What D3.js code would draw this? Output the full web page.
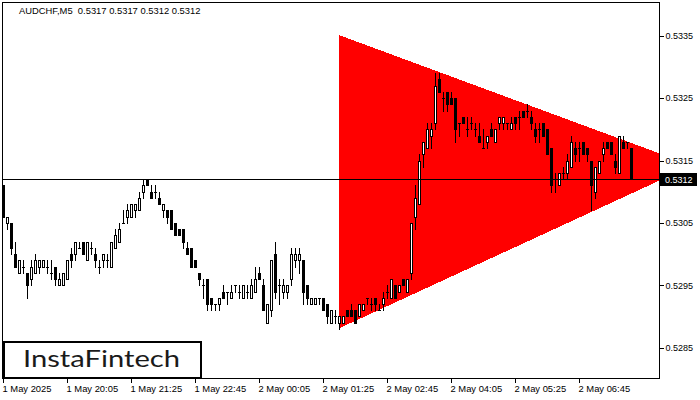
<!DOCTYPE html>
<html><head><meta charset="utf-8">
<script src="https://cdn.jsdelivr.net/npm/d3@7"></script>
<style>body{margin:0;background:#fff}svg{display:block}</style>
</head><body>
<script>
const symbolTitle = "AUDCHF,M5  0.5317 0.5317 0.5312 0.5312";
const openP = [.5311,.5305,.5305,.5300,.5297,.5298,.5297,.5296,.5297,.5298,.5298,.5298,.5297,.5298,.5295,.5295,.5296,.5300,.5300,.5301,
.5302,.5299,.5301,.5300,.5298,.5299,.5299,.5298,.5301,.5302,.5305,.5306,.5306,.5307,.5307,.5310,.5312,.5310,.5310,.5309,
.5307,.5307,.5307,.5305,.5304,.5304,.5301,.5301,.5299,.5297,.5295,.5296,.5293,.5292,.5292,.5294,.5294,.5293,.5295,.5294,
.5293,.5294,.5293,.5294,.5297,.5295,.5289,.5291,.5300,.5295,.5294,.5294,.5296,.5299,.5299,.5299,.5295,.5292,.5292,.5293,
.5293,.5292,.5289,.5290,.5289,.5289,.5291,.5291,.5291,.5290,.5291,.5293,.5292,.5293,.5291,.5292,.5294,.5293,.5295,.5294,
.5296,.5294,.5297,.5306,.5308,.5316,.5317,.5319,.5321,.5328,.5325,.5326,.5325,.5325,.5321,.5322,.5320,.5321,.5320,.5319,
.5317,.5318,.5320,.5318,.5321,.5321,.5321,.5320,.5322,.5322,.5323,.5323,.5322,.5320,.5320,.5321,.5320,.5317,.5312,.5311,
.5313,.5313,.5314,.5317,.5317,.5318,.5317,.5315,.5310,.5313,.5316,.5318,.5318,.5315,.5313,.5318,.5318,.5317];
const highP = [.5311,.5306,.5305,.5302,.5299,.5299,.5297,.5299,.5300,.5299,.5299,.5299,.5299,.5298,.5297,.5297,.5299,.5301,.5302,.5302,
.5302,.5302,.5302,.5301,.5299,.5300,.5300,.5302,.5304,.5305,.5307,.5308,.5308,.5308,.5310,.5312,.5312,.5311,.5311,.5310,
.5308,.5307,.5307,.5305,.5304,.5304,.5302,.5301,.5299,.5297,.5296,.5296,.5293,.5292,.5293,.5295,.5294,.5295,.5295,.5295,
.5295,.5295,.5296,.5298,.5298,.5296,.5292,.5299,.5302,.5296,.5296,.5295,.5301,.5301,.5301,.5299,.5295,.5293,.5293,.5293,
.5293,.5292,.5291,.5291,.5290,.5290,.5291,.5292,.5291,.5292,.5292,.5293,.5293,.5293,.5292,.5294,.5295,.5296,.5295,.5295,
.5296,.5296,.5305,.5311,.5316,.5318,.5321,.5321,.5329,.5329,.5326,.5326,.5326,.5325,.5321,.5322,.5322,.5322,.5321,.5321,
.5320,.5319,.5321,.5320,.5322,.5322,.5321,.5322,.5322,.5323,.5323,.5324,.5323,.5321,.5321,.5321,.5320,.5317,.5313,.5313,
.5314,.5316,.5319,.5318,.5318,.5318,.5317,.5315,.5314,.5315,.5318,.5318,.5318,.5316,.5319,.5319,.5318,.5317];
const lowP = [.5306,.5304,.5300,.5298,.5297,.5297,.5293,.5295,.5297,.5297,.5298,.5297,.5296,.5295,.5295,.5295,.5296,.5298,.5299,.5301,
.5300,.5299,.5300,.5298,.5297,.5298,.5298,.5298,.5301,.5302,.5305,.5305,.5306,.5306,.5307,.5309,.5311,.5309,.5309,.5308,
.5306,.5305,.5304,.5303,.5303,.5301,.5300,.5298,.5298,.5295,.5293,.5291,.5291,.5291,.5291,.5293,.5292,.5293,.5294,.5293,
.5293,.5293,.5293,.5294,.5296,.5291,.5289,.5290,.5293,.5292,.5293,.5293,.5295,.5298,.5297,.5292,.5292,.5292,.5292,.5292,
.5291,.5289,.5289,.5289,.5288,.5289,.5290,.5290,.5289,.5290,.5291,.5292,.5291,.5291,.5291,.5291,.5293,.5293,.5293,.5294,
.5295,.5294,.5296,.5304,.5308,.5314,.5317,.5317,.5320,.5326,.5323,.5323,.5324,.5318,.5319,.5321,.5319,.5320,.5319,.5318,
.5317,.5317,.5319,.5318,.5320,.5320,.5320,.5320,.5320,.5320,.5322,.5322,.5320,.5318,.5318,.5319,.5316,.5310,.5310,.5311,
.5312,.5312,.5314,.5315,.5315,.5316,.5315,.5307,.5309,.5313,.5315,.5317,.5316,.5313,.5313,.5317,.5317,.5312];
const closeP = [.5306,.5306,.5301,.5298,.5299,.5298,.5295,.5298,.5299,.5299,.5299,.5298,.5297,.5296,.5296,.5297,.5299,.5299,.5302,.5301,
.5300,.5302,.5301,.5299,.5298,.5300,.5299,.5302,.5303,.5304,.5305,.5307,.5308,.5308,.5309,.5311,.5311,.5309,.5310,.5308,
.5308,.5306,.5304,.5303,.5303,.5302,.5300,.5298,.5298,.5296,.5295,.5292,.5292,.5292,.5293,.5293,.5294,.5294,.5295,.5294,
.5295,.5294,.5295,.5296,.5296,.5291,.5292,.5299,.5294,.5295,.5295,.5295,.5300,.5300,.5300,.5294,.5293,.5293,.5293,.5293,
.5291,.5290,.5291,.5290,.5290,.5290,.5290,.5290,.5289,.5292,.5292,.5293,.5292,.5292,.5291,.5293,.5294,.5296,.5293,.5295,
.5295,.5296,.5305,.5309,.5315,.5318,.5320,.5320,.5327,.5326,.5325,.5324,.5324,.5320,.5321,.5321,.5320,.5321,.5320,.5318,
.5317,.5319,.5319,.5320,.5322,.5322,.5321,.5321,.5321,.5322,.5322,.5323,.5321,.5319,.5320,.5319,.5316,.5311,.5312,.5313,
.5313,.5315,.5318,.5316,.5317,.5316,.5316,.5311,.5314,.5315,.5317,.5317,.5316,.5314,.5319,.5317,.5318,.5312];
const timeTickBars = [0,16,32,48,64,80,96,112,128,144];
const timeLabels = ["1 May 2025","1 May 20:05","1 May 21:25","1 May 22:45","2 May 00:05","2 May 01:25","2 May 02:45","2 May 04:05","2 May 05:25","2 May 06:45"];
const priceTicks = [0.5335,0.5325,0.5315,0.5305,0.5295,0.5285];
const lastPrice = 0.5312;
const triangleBars = [84, 172.3, 84];
const trianglePrices = [0.53351, 0.53142, 0.52881];
const logoText = "InstaFintech";

const W = 700, H = 400;
const svg = d3.select("body").append("svg").attr("width", W).attr("height", H)
  .style("font-family", "'Liberation Sans', Arial, sans-serif");
const x = d3.scaleLinear().domain([0, 157]).range([3.5, 631.5]);
const y = d3.scaleLinear().domain([0.5285, 0.5335]).range([347.7, 35.7]);
const py = v => Math.round(y(v));

svg.append("defs").append("clipPath").attr("id", "plotclip")
  .append("rect").attr("x", 3).attr("y", 3).attr("width", 656).attr("height", 375);

// triangle
svg.append("polygon")
  .attr("clip-path", "url(#plotclip)")
  .attr("points", triangleBars.map((b, i) => [x(b) - 0.5, y(trianglePrices[i])].join(",")).join(" "))
  .attr("fill", "#ff0000")
  .attr("shape-rendering", "crispEdges");

// candles
const candles = svg.append("g").attr("shape-rendering", "crispEdges");
openP.forEach((o, i) => {
  const cx = x(i), c = closeP[i];
  const yh = py(highP[i]), yl = py(lowP[i]);
  candles.append("rect").attr("x", cx - 0.5).attr("y", yh).attr("width", 1).attr("height", yl - yh + 1).attr("fill", "#000");
  const top = Math.min(py(o), py(c)), bot = Math.max(py(o), py(c));
  candles.append("rect").attr("x", cx - 1.5).attr("y", top).attr("width", 3).attr("height", bot - top + 1).attr("fill", "#000");
  if (c > o && bot - top > 1) {
    candles.append("rect").attr("x", cx - 0.5).attr("y", top + 1).attr("width", 1).attr("height", bot - top - 1).attr("fill", "#fff");
  }
});

// last price line
const yl = Math.floor(y(lastPrice));
svg.append("rect").attr("x", 3).attr("y", yl).attr("width", 656).attr("height", 1).attr("fill", "#000")
  .attr("shape-rendering", "crispEdges");

// frame
svg.append("rect").attr("x", 2.5).attr("y", 2.5).attr("width", 657).attr("height", 376)
  .attr("fill", "none").attr("stroke", "#000").attr("shape-rendering", "crispEdges");

// right price axis
const ay = svg.append("g").attr("transform", "translate(659.5,0)");
const yAxis = d3.axisRight(y).tickValues(priceTicks).tickFormat(d3.format(".4f")).tickSize(4).tickPadding(2);
ay.call(yAxis);
ay.select(".domain").remove();
ay.selectAll(".tick line").attr("stroke", "#000").attr("shape-rendering", "crispEdges");
ay.selectAll(".tick text").attr("fill", "#000").style("font-size", "9px").style("font-family", "'Liberation Sans', Arial, sans-serif");

// last price tag
svg.append("rect").attr("x", 660).attr("y", yl - 6).attr("width", 37).attr("height", 13).attr("fill", "#000");
svg.append("text").attr("x", 665).attr("y", yl + 0.5).attr("dominant-baseline", "central")
  .attr("fill", "#fff").style("font-size", "9px").text(d3.format(".4f")(lastPrice));

// time axis
const tx = svg.append("g");
timeTickBars.forEach((b, i) => {
  tx.append("rect").attr("x", Math.floor(x(b))).attr("y", 379).attr("width", 1).attr("height", 4).attr("fill", "#000")
    .attr("shape-rendering", "crispEdges");
  tx.append("text").attr("x", x(b) - 1).attr("y", 392).attr("fill", "#000").style("font-size", "9.4px").text(timeLabels[i]);
});

// title
svg.append("text").attr("x", 19).attr("y", 14).attr("fill", "#000").style("font-size", "9.4px").attr("xml:space", "preserve")
  .style("white-space", "pre").text(symbolTitle);

// logo
svg.append("rect").attr("x", 4).attr("y", 342).attr("width", 197).attr("height", 36)
  .attr("fill", "#fff").attr("stroke", "#000").attr("stroke-width", 2);
svg.append("text").attr("x", 23).attr("y", 367).attr("fill", "#1a1a1a")
  .style("font-family", "Lato, 'Open Sans', sans-serif").style("font-size", "23px")
  .attr("textLength", 157).attr("lengthAdjust", "spacingAndGlyphs").text(logoText);
</script>
</body></html>
